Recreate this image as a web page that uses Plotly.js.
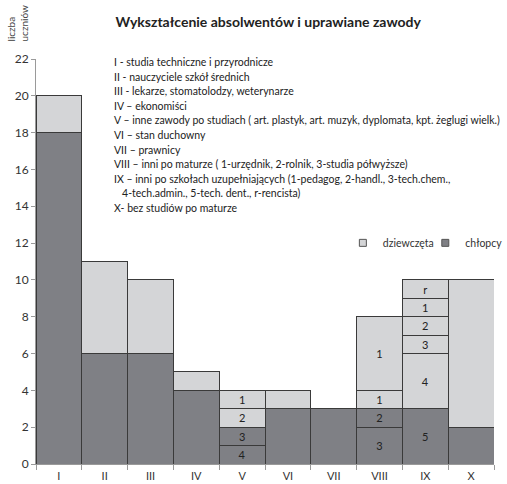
<!DOCTYPE html>
<html>
<head>
<meta charset="utf-8">
<script src="https://cdn.plot.ly/plotly-3.0.1.min.js"></script>
<style>html,body{margin:0;padding:0;background:#fff;}#chart{width:507px;height:484px;}</style>
</head>
<body>
<div id="chart"></div>
<script>
// Categories (occupation groups)
var categories = ['I','II','III','IV','V','VI','VII','VIII','IX','X'];

// Boys (chłopcy) – stacked segments, bottom to top
var boys1       = [18, 6, 6, 4, 1, 3, 3, 2, 3, 2];
var boys1Labels = ['', '', '', '', '4', '', '', '3', '5', ''];
var boys2       = [null, null, null, null, 1, null, null, 1, null, null];
var boys2Labels = ['', '', '', '', '3', '', '', '2', '', ''];

// Girls (dziewczęta) – stacked segments, bottom to top
var girls1       = [2, 5, 4, 1, 1, 1, null, 1, 3, 8];
var girls1Labels = ['', '', '', '', '2', '', '', '1', '4', ''];
var girls2       = [null, null, null, null, 1, null, null, 4, 1, null];
var girls2Labels = ['', '', '', '', '1', '', '', '1', '3', ''];
var girls3       = [null, null, null, null, null, null, null, null, 1, null];
var girls3Labels = ['', '', '', '', '', '', '', '', '2', ''];
var girls4       = [null, null, null, null, null, null, null, null, 1, null];
var girls4Labels = ['', '', '', '', '', '', '', '', '1', ''];
var girls5       = [null, null, null, null, null, null, null, null, 1, null];
var girls5Labels = ['', '', '', '', '', '', '', '', 'r', ''];

var legendBoys = 'chłopcy';
var legendGirls = 'dziewczęta';

var descLines = [
  'I - studia techniczne i przyrodnicze',
  'II - nauczyciele szkół średnich',
  'III - lekarze, stomatolodzy, weterynarze',
  'IV – ekonomiści',
  'V – inne zawody po studiach ( art. plastyk, art. muzyk, dyplomata, kpt. żeglugi wielk.)',
  'VI – stan duchowny',
  'VII – prawnicy',
  'VIII – inni po maturze ( 1-urzędnik, 2-rolnik, 3-studia półwyższe)',
  'IX – inni po szkołach uzupełniających (1-pedagog, 2-handl., 3-tech.chem.,',
  '   4-tech.admin., 5-tech. dent., r-rencista)',
  'X- bez studiów po maturze'
];

var DARK = '#7f8085', LIGHT = '#d4d5d7', EDGE = '#3a3a3a';
var FONT = 'Lato, "Open Sans", sans-serif';

function seg(vals, labels, color) {
  return {
    type: 'bar', x: categories, y: vals, text: labels,
    textposition: 'inside', insidetextanchor: 'middle', textangle: 0,
    constraintext: 'none',
    textfont: {family: FONT, size: 11, color: '#222'},
    marker: {color: color, line: {color: EDGE, width: 1}},
    showlegend: false, hoverinfo: 'x+y'
  };
}
function legendEntry(name, color, legendId) {
  return {
    type: 'scatter', mode: 'markers', x: [null], y: [null], name: name,
    marker: {symbol: 'square', size: 7, color: color, line: {color: '#555', width: 1}},
    showlegend: true, legend: legendId, hoverinfo: 'skip'
  };
}

var traces = [
  seg(boys1, boys1Labels, DARK),
  seg(boys2, boys2Labels, DARK),
  seg(girls1, girls1Labels, LIGHT),
  seg(girls2, girls2Labels, LIGHT),
  seg(girls3, girls3Labels, LIGHT),
  seg(girls4, girls4Labels, LIGHT),
  seg(girls5, girls5Labels, LIGHT),
  legendEntry(legendGirls, LIGHT, 'legend'),
  legendEntry(legendBoys, DARK, 'legend2')
];

var legendStyle = function (x) {
  return {
    x: x, y: 0.546, xanchor: 'left', yanchor: 'middle',
    font: {family: FONT, size: 10.5, color: '#333'},
    bgcolor: 'rgba(0,0,0,0)', itemwidth: 30, borderwidth: 0
  };
};

// description lines, one annotation each (14.6 px apart, first centred at y=62px)
var PLOT_TOP = 59, PLOT_H = 405;
var annotations = descLines.map(function (line, i) {
  var yc = 62 + i * 14.6;
  return {
    text: line.replace(/^ +/, function (s) { return s.replace(/ /g, '&nbsp;'); }),
    showarrow: false, align: 'left',
    xref: 'paper', yref: 'paper', x: 0.166, y: (PLOT_TOP + PLOT_H - yc) / PLOT_H,
    xanchor: 'left', yanchor: 'middle',
    font: {family: FONT, size: 10.5, color: '#222'}
  };
});
annotations.push({
  text: 'liczba<br>uczniów', showarrow: false, textangle: -90, align: 'left',
  xref: 'paper', yref: 'paper', x: -0.0415, y: 1.0877, xanchor: 'center', yanchor: 'middle',
  font: {family: FONT, size: 10, color: '#444'}
});

var layout = {
  width: 507, height: 484,
  margin: {l: 36, r: 13, t: 59, b: 20, autoexpand: false},
  paper_bgcolor: '#fff', plot_bgcolor: '#fff',
  barmode: 'stack', bargap: 0,
  font: {family: FONT, size: 11, color: '#333'},
  title: {
    text: '<b>Wykształcenie absolwentów i uprawiane zawody</b>',
    font: {family: FONT, size: 14, color: '#222'},
    x: 0.529, xref: 'container', xanchor: 'center',
    y: 0.955, yref: 'container', yanchor: 'middle'
  },
  xaxis: {
    type: 'category', range: [-0.5, 9.5],
    showline: true, linecolor: '#9a9a9a', linewidth: 1,
    ticks: 'outside', tickson: 'boundaries', ticklen: 5, tickcolor: '#9a9a9a',
    ticklabelstandoff: 2,
    showgrid: false, zeroline: false,
    tickfont: {family: FONT, size: 11, color: '#333'}
  },
  yaxis: {
    range: [0, 22], dtick: 2, tick0: 0,
    showline: true, linecolor: '#9a9a9a', linewidth: 1,
    ticks: 'outside', ticklen: 4, tickcolor: '#9a9a9a',
    showgrid: false, zeroline: false,
    tickfont: {family: FONT, size: 12, color: '#333'}
  },
  legend: legendStyle(0.670),
  legend2: legendStyle(0.850),
  annotations: annotations
};

Plotly.newPlot('chart', traces, layout, {displayModeBar: false, staticPlot: true});
</script>
</body>
</html>
